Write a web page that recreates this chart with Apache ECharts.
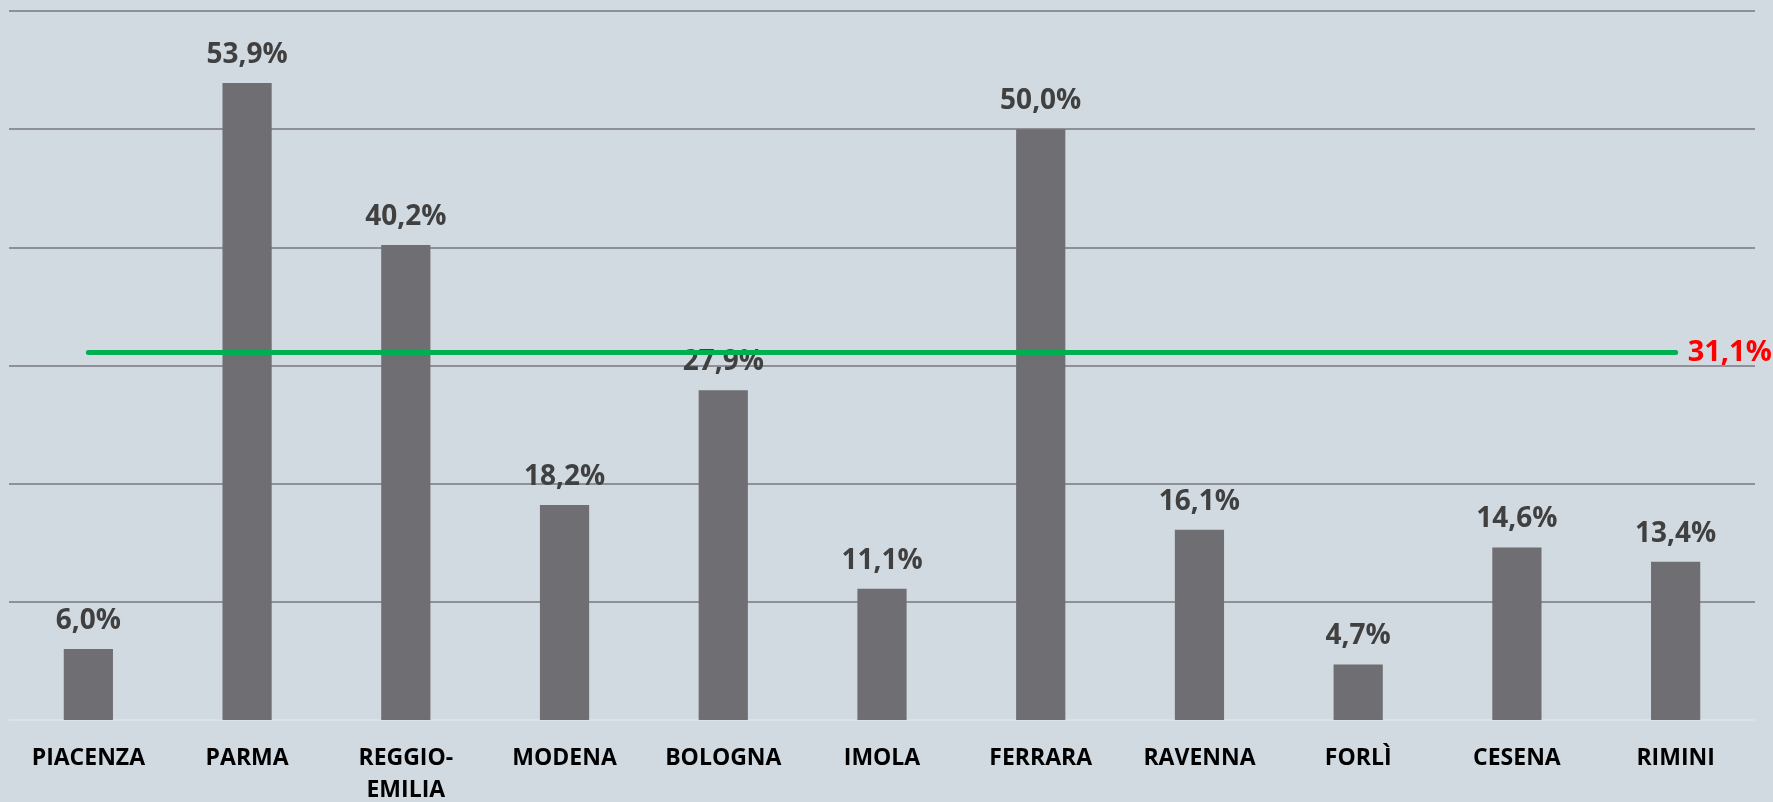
<!DOCTYPE html>
<html>
<head>
<meta charset="utf-8">
<script src="https://cdn.jsdelivr.net/npm/echarts@6/dist/echarts.min.js"></script>
<style>
  html, body { margin: 0; padding: 0; background: #d2dae1; }
  #chart { width: 1773px; height: 802px; }
</style>
</head>
<body>
<div id="chart"></div>
<script>
const cities = ['PIACENZA', 'PARMA', 'REGGIO-\nEMILIA', 'MODENA', 'BOLOGNA', 'IMOLA', 'FERRARA', 'RAVENNA', 'FORLÌ', 'CESENA', 'RIMINI'];
const shares = [6.0, 53.9, 40.2, 18.2, 27.9, 11.1, 50.0, 16.1, 4.7, 14.6, 13.4];
const average = 31.1;
const avgLine = cities.map(() => average);

const fmt = v => v.toFixed(1).replace('.', ',') + '%';

const myChart = echarts.init(document.getElementById('chart'));
const option = {
  backgroundColor: '#d2dae1',
  animation: false,
  grid: { left: 9, right: 18, top: 11, bottom: 82, outerBoundsMode: 'none' },
  xAxis: {
    type: 'category',
    data: cities,
    axisLine: { show: false },
    axisTick: { show: false },
    axisLabel: {
      color: '#000',
      fontFamily: 'Open Sans',
      fontWeight: 'bold',
      fontSize: 23,
      lineHeight: 32,
      margin: 22,
      interval: 0
    }
  },
  yAxis: {
    type: 'value',
    min: 0,
    max: 60,
    interval: 10,
    axisLabel: { show: false },
    axisLine: { show: false },
    axisTick: { show: false },
    splitLine: {
      lineStyle: {
        // no dark line on the baseline
        color: ['#dbe1e6', '#8f9097', '#8f9097', '#8f9097', '#8f9097', '#8f9097', '#8f9097'],
        width: 2
      }
    }
  },
  series: [
    {
      type: 'bar',
      data: shares,
      barWidth: '31%',
      itemStyle: { color: '#6f6e73' },
      label: {
        show: true,
        position: 'top',
        distance: 14,
        color: '#404040',
        fontFamily: 'Open Sans',
        fontWeight: 'bold',
        fontSize: 28,
        formatter: p => fmt(p.value)
      }
    },
    {
      type: 'line',
      data: avgLine,
      symbol: 'none',
      lineStyle: { color: '#00b050', width: 5, cap: 'round' },
      endLabel: {
        show: true,
        color: '#ff0000',
        fontFamily: 'Open Sans',
        fontWeight: 'bold',
        fontSize: 29,
        distance: 12,
        formatter: () => fmt(average)
      },
      z: 3
    }
  ]
};
myChart.setOption(option);
window.addEventListener('resize', function () {
  myChart.resize();
});
</script>
</body>
</html>
